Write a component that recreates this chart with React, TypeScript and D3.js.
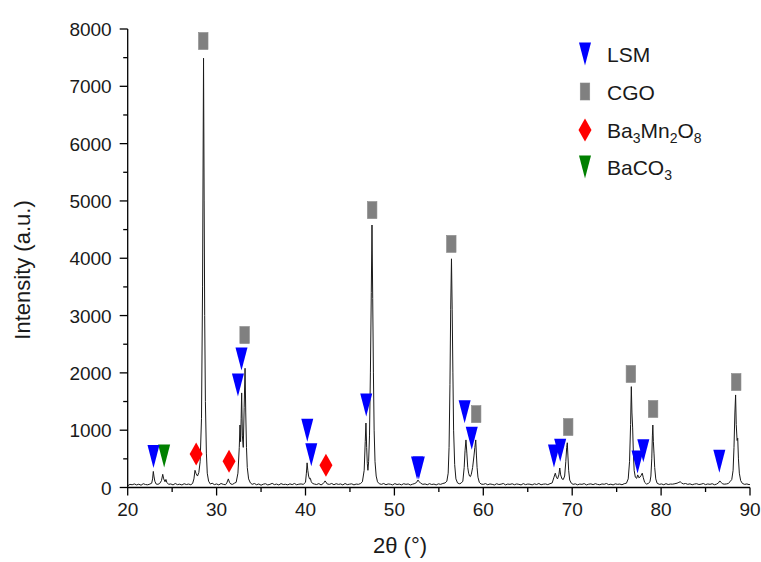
import React from "react";
import * as d3 from "d3";

// XRD scan: [2θ (°), intensity (a.u.)]
const pattern: [number, number][] = [
  [20.0, 30], [20.25, 55], [20.5, 48], [20.75, 62], [21.0, 45], [21.25, 58], [21.5, 40], [21.75, 66],
  [22.0, 52], [22.25, 47], [22.5, 60], [22.7, 75], [22.8, 150], [22.88, 280], [22.95, 200], [23.05, 110],
  [23.2, 60], [23.4, 55], [23.6, 70], [23.8, 120], [23.94, 230], [24.05, 150], [24.2, 100], [24.3, 140],
  [24.4, 90], [24.6, 55], [24.85, 62], [25.1, 45], [25.35, 70], [25.6, 50], [25.85, 58], [26.1, 44],
  [26.35, 66], [26.6, 52], [26.85, 60], [27.1, 48], [27.3, 70], [27.45, 150], [27.57, 300], [27.7, 240],
  [27.85, 200], [28.0, 260], [28.15, 450], [28.3, 1200], [28.42, 3500], [28.53, 7490], [28.6, 5000],
  [28.66, 3000], [28.74, 1500], [28.85, 600], [28.95, 250], [29.1, 110], [29.3, 60], [29.5, 75],
  [29.75, 50], [30.0, 62], [30.25, 45], [30.5, 70], [30.75, 55], [31.0, 48], [31.15, 80], [31.32, 150],
  [31.45, 90], [31.6, 60], [31.8, 55], [32.0, 75], [32.2, 90], [32.4, 250], [32.55, 700], [32.63, 1090],
  [32.7, 800], [32.76, 1200], [32.82, 1650], [32.9, 900], [33.0, 700], [33.1, 1400], [33.2, 2080],
  [33.28, 1300], [33.36, 700], [33.45, 350], [33.6, 150], [33.8, 80], [34.0, 55], [34.25, 70],
  [34.5, 48], [34.75, 62], [35.0, 40], [35.25, 58], [35.5, 66], [35.75, 45], [36.0, 55], [36.25, 72],
  [36.5, 50], [36.75, 60], [37.0, 44], [37.25, 68], [37.5, 52], [37.75, 57], [38.0, 46], [38.25, 64],
  [38.5, 50], [38.75, 70], [39.0, 48], [39.25, 58], [39.5, 62], [39.75, 55], [40.0, 90], [40.1, 250],
  [40.18, 430], [40.26, 300], [40.35, 200], [40.45, 150], [40.55, 160], [40.65, 100], [40.8, 70],
  [41.0, 60], [41.25, 52], [41.5, 68], [41.75, 45], [42.0, 70], [42.1, 90], [42.2, 115], [42.3, 95],
  [42.45, 60], [42.7, 55], [42.95, 70], [43.2, 48], [43.45, 66], [43.7, 54], [43.95, 62], [44.2, 45],
  [44.45, 70], [44.7, 50], [44.95, 58], [45.2, 64], [45.45, 46], [45.7, 60], [45.95, 55], [46.2, 70],
  [46.4, 100], [46.6, 300], [46.72, 800], [46.8, 1125], [46.88, 700], [46.95, 420], [47.02, 300],
  [47.1, 450], [47.2, 900], [47.3, 2000], [47.4, 3400], [47.48, 4580], [47.56, 3300], [47.64, 2000],
  [47.72, 1000], [47.82, 450], [47.95, 200], [48.1, 100], [48.3, 65], [48.55, 55], [48.8, 70],
  [49.05, 48], [49.3, 62], [49.55, 57], [49.8, 45], [50.05, 68], [50.3, 52], [50.55, 60], [50.8, 46],
  [51.05, 66], [51.3, 55], [51.55, 62], [51.8, 44], [52.05, 58], [52.3, 70], [52.5, 90], [52.65, 130],
  [52.8, 100], [52.95, 75], [53.2, 55], [53.45, 62], [53.7, 48], [53.95, 67], [54.2, 52], [54.45, 60],
  [54.7, 45], [54.95, 64], [55.2, 55], [55.45, 70], [55.7, 80], [55.9, 110], [56.05, 250], [56.15, 700],
  [56.25, 1800], [56.33, 3100], [56.42, 3990], [56.5, 3100], [56.58, 2000], [56.66, 1000], [56.78, 400],
  [56.92, 150], [57.1, 80], [57.3, 65], [57.5, 75], [57.7, 110], [57.85, 350], [57.95, 650], [58.05, 830],
  [58.15, 600], [58.25, 350], [58.35, 250], [58.45, 200], [58.55, 190], [58.65, 230], [58.8, 350],
  [58.95, 550], [59.05, 700], [59.15, 830], [59.23, 550], [59.3, 350], [59.4, 180], [59.55, 90],
  [59.75, 60], [60.0, 55], [60.25, 68], [60.5, 48], [60.75, 62], [61.0, 55], [61.25, 44], [61.5, 66],
  [61.75, 52], [62.0, 58], [62.25, 70], [62.5, 46], [62.75, 60], [63.0, 54], [63.25, 65], [63.5, 48],
  [63.75, 62], [64.0, 55], [64.25, 45], [64.5, 68], [64.75, 50], [65.0, 60], [65.25, 57], [65.5, 46],
  [65.75, 64], [66.0, 52], [66.25, 70], [66.5, 48], [66.75, 58], [67.0, 62], [67.25, 50], [67.5, 66],
  [67.75, 80], [67.95, 180], [68.1, 250], [68.22, 180], [68.35, 150], [68.5, 220], [68.6, 340],
  [68.7, 220], [68.85, 150], [69.0, 140], [69.15, 200], [69.28, 450], [69.38, 700], [69.45, 780],
  [69.52, 550], [69.6, 300], [69.72, 130], [69.9, 75], [70.1, 55], [70.35, 64], [70.6, 47], [70.85, 60],
  [71.1, 55], [71.35, 68], [71.6, 45], [71.85, 58], [72.1, 63], [72.35, 50], [72.6, 67], [72.85, 54],
  [73.1, 48], [73.35, 62], [73.6, 56], [73.85, 70], [74.1, 50], [74.35, 58], [74.6, 45], [74.85, 64],
  [75.1, 55], [75.35, 60], [75.6, 48], [75.85, 66], [76.1, 75], [76.3, 150], [76.45, 450], [76.57, 1100],
  [76.65, 1760], [76.72, 1300], [76.8, 1040], [76.88, 600], [76.97, 300], [77.1, 180], [77.25, 160],
  [77.37, 220], [77.5, 170], [77.62, 180], [77.75, 210], [77.88, 250], [78.0, 170], [78.15, 90],
  [78.35, 60], [78.55, 70], [78.75, 100], [78.85, 200], [78.95, 500], [79.02, 900], [79.07, 1090],
  [79.13, 800], [79.2, 600], [79.28, 350], [79.4, 150], [79.55, 75], [79.8, 55], [80.05, 62], [80.3, 48],
  [80.55, 67], [80.8, 52], [81.05, 60], [81.3, 58], [81.55, 66], [81.8, 75], [82.0, 90], [82.15, 100],
  [82.3, 80], [82.5, 62], [82.75, 70], [83.0, 55], [83.25, 64], [83.5, 48], [83.75, 60], [84.0, 66],
  [84.25, 52], [84.5, 58], [84.75, 70], [85.0, 50], [85.25, 62], [85.5, 55], [85.75, 66], [86.0, 48],
  [86.25, 60], [86.45, 80], [86.6, 115], [86.75, 90], [86.9, 65], [87.1, 58], [87.35, 62], [87.55, 70],
  [87.75, 100], [87.95, 140], [88.1, 300], [88.2, 700], [88.3, 1300], [88.38, 1615], [88.45, 1100],
  [88.55, 820], [88.62, 860], [88.7, 500], [88.8, 250], [88.95, 120], [89.15, 70], [89.4, 55],
  [89.65, 62], [89.9, 50], [90.0, 55],
];

// Phase markers: [2θ (°), intensity level of the marker]
const lsmMarks: [number, number][] = [
  [22.9, 540], [32.4, 1790], [32.8, 2240], [40.2, 1000], [40.65, 570], [46.83, 1440],
  [52.55, 340], [52.75, 340], [57.9, 1320], [58.7, 860], [67.95, 550], [68.65, 650],
  [77.35, 445], [78.0, 640], [86.55, 460],
];
const cgoMarks: [number, number][] = [
  [28.5, 7790], [33.15, 2660], [47.5, 4840], [56.4, 4250], [59.2, 1280], [69.55, 1055],
  [76.6, 1980], [79.1, 1370], [88.45, 1840],
];
const ba3Mn2O8Marks: [number, number][] = [[27.7, 585], [31.4, 460], [42.3, 390]];
const baco3Marks: [number, number][] = [[24.1, 550]];

const xTicks = [20, 30, 40, 50, 60, 70, 80, 90];
const xMinorTicks = [25, 35, 45, 55, 65, 75, 85];
const yTicks = [0, 1000, 2000, 3000, 4000, 5000, 6000, 7000, 8000];
const yMinorTicks = [500, 1500, 2500, 3500, 4500, 5500, 6500, 7500];

const FONT = "Liberation Sans, Arial, Helvetica, sans-serif";
const BLUE = "#0000ff";
const GRAY = "#808080";
const RED = "#ff0000";
const GREEN = "#008000";

const triPath = "M-6,-11.5L6,-11.5L0,11.5Z";
const diamondPath = "M0,-11.5L6.5,0L0,11.5L-6.5,0Z";

function Marker({ kind, x, y }: { kind: string; x: number; y: number }) {
  if (kind === "lsm") return <path d={triPath} transform={`translate(${x},${y})`} fill={BLUE} />;
  if (kind === "baco3") return <path d={triPath} transform={`translate(${x},${y})`} fill={GREEN} />;
  if (kind === "ba3") return <path d={diamondPath} transform={`translate(${x},${y})`} fill={RED} />;
  return <rect x={x - 4.75} y={y - 8.5} width={9.5} height={17} fill={GRAY} stroke="#8a8a8a" strokeWidth={0.6} />;
}

export default function App() {
  const width = 761;
  const height = 562;
  const x = d3.scaleLinear().domain([20, 90]).range([127.7, 750]);
  const y = d3.scaleLinear().domain([0, 8000]).range([487.5, 29]);

  const line = d3
    .line<[number, number]>()
    .x((d) => x(d[0]))
    .y((d) => y(d[1]));

  const markerSets: { kind: string; data: [number, number][] }[] = [
    { kind: "cgo", data: cgoMarks },
    { kind: "ba3", data: ba3Mn2O8Marks },
    { kind: "baco3", data: baco3Marks },
    { kind: "lsm", data: lsmMarks },
  ];

  const legendX = 585;
  const legendTextX = 607;
  const legendRows = [54, 91.5, 130, 167];

  return (
    <svg
      width={width}
      height={height}
      style={{ position: "absolute", left: 0, top: 0, background: "#fff" }}
      fontFamily={FONT}
    >
      <rect width={width} height={height} fill="#fff" />

      {/* pattern */}
      <path d={line(pattern) ?? ""} fill="none" stroke="#1a1a1a" strokeWidth={1} strokeLinejoin="round" />

      {/* axes */}
      <g stroke="#000" strokeWidth={1.3}>
        <line x1={x(20)} x2={x(90)} y1={y(0)} y2={y(0)} />
        <line x1={x(20)} x2={x(20)} y1={y(0)} y2={y(8000)} />
        {xTicks.map((t) => (
          <line key={`xt${t}`} x1={x(t)} x2={x(t)} y1={y(0)} y2={y(0) + 8} />
        ))}
        {xMinorTicks.map((t) => (
          <line key={`xm${t}`} x1={x(t)} x2={x(t)} y1={y(0)} y2={y(0) + 4.5} />
        ))}
        {yTicks.map((t) => (
          <line key={`yt${t}`} x1={x(20) - 8} x2={x(20)} y1={y(t)} y2={y(t)} />
        ))}
        {yMinorTicks.map((t) => (
          <line key={`ym${t}`} x1={x(20) - 4.5} x2={x(20)} y1={y(t)} y2={y(t)} />
        ))}
      </g>
      <g fontSize={19} fill="#1a1a1a">
        {xTicks.map((t) => (
          <text key={`xl${t}`} x={x(t)} y={y(0) + 28} textAnchor="middle">
            {t}
          </text>
        ))}
        {yTicks.map((t) => (
          <text key={`yl${t}`} x={x(20) - 16} y={y(t) + 7} textAnchor="end">
            {t}
          </text>
        ))}
      </g>
      <text x={400} y={553} fontSize={22} textAnchor="middle" fill="#1a1a1a">
        2θ (°)
      </text>
      <text
        transform={`translate(30,270) rotate(-90)`}
        fontSize={22}
        textAnchor="middle"
        fill="#1a1a1a"
      >
        Intensity (a.u.)
      </text>

      {/* phase markers */}
      {markerSets.map((s) =>
        s.data.map((d, i) => <Marker key={`${s.kind}${i}`} kind={s.kind} x={x(d[0])} y={y(d[1])} />)
      )}

      {/* legend */}
      <g fontSize={21} fill="#1a1a1a">
        <Marker kind="lsm" x={legendX} y={legendRows[0]} />
        <text x={legendTextX} y={legendRows[0] + 8}>LSM</text>
        <Marker kind="cgo" x={legendX} y={legendRows[1]} />
        <text x={legendTextX} y={legendRows[1] + 8}>CGO</text>
        <Marker kind="ba3" x={legendX} y={legendRows[2]} />
        <text x={legendTextX} y={legendRows[2] + 8}>
          Ba<tspan fontSize={14} dy={5}>3</tspan>
          <tspan dy={-5}>Mn</tspan>
          <tspan fontSize={14} dy={5}>2</tspan>
          <tspan dy={-5}>O</tspan>
          <tspan fontSize={14} dy={5}>8</tspan>
        </text>
        <Marker kind="baco3" x={legendX} y={legendRows[3]} />
        <text x={legendTextX} y={legendRows[3] + 8}>
          BaCO<tspan fontSize={14} dy={5}>3</tspan>
        </text>
      </g>
    </svg>
  );
}
